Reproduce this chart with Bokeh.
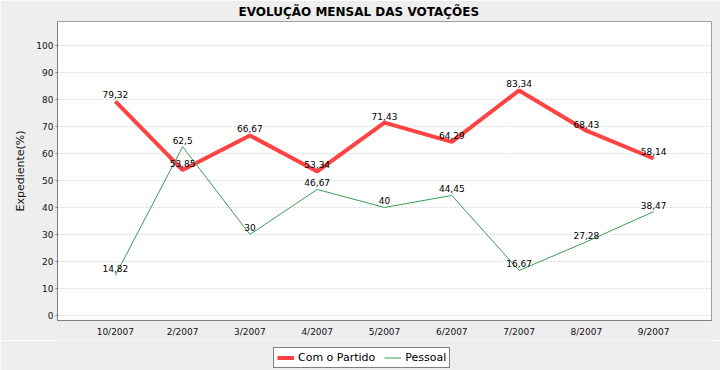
from bokeh.plotting import figure
from bokeh.layouts import column
from bokeh.models import (ColumnDataSource, FixedTicker, Range1d, Legend, LegendItem)
from bokeh.core.properties import value
from bokeh.embed import file_html
from bokeh.resources import INLINE

# ---- data ----
months = ["10/2007", "2/2007", "3/2007", "4/2007", "5/2007", "6/2007", "7/2007", "8/2007", "9/2007"]
com_partido = [79.32, 53.85, 66.67, 53.34, 71.43, 64.29, 83.34, 68.43, 58.14]
pessoal = [14.82, 62.5, 30, 46.67, 40, 44.45, 16.67, 27.28, 38.47]
y_ticks = [0, 10, 20, 30, 40, 50, 60, 70, 80, 90, 100]
title_text = "EVOLUÇÃO MENSAL DAS VOTAÇÕES"
y_label = "Expediente(%)"
series_names = ["Com o Partido", "Pessoal"]


def fmt(v):
    s = ("%.2f" % v).rstrip("0").rstrip(".")
    return s.replace(".", ",")


xs = list(range(len(months)))
src_a = ColumnDataSource(dict(x=xs, y=com_partido, t=[fmt(v) for v in com_partido]))
src_b = ColumnDataSource(dict(x=xs, y=pessoal, t=[fmt(v) for v in pessoal]))

FONT = "DejaVu Sans"
RED = "#FF4242"
GREEN = "#3A9C52"
BG = "#EEEEEE"

p = figure(width=720, height=340, output_backend="svg", toolbar_location=None,
           x_range=Range1d(-0.86, len(months) - 1 + 0.86),
           y_range=Range1d(-1.85, 108.86),
           min_border_left=57, min_border_right=9, min_border_top=20,
           min_border_bottom=20)

p.background_fill_color = "white"
p.border_fill_color = BG
p.outline_line_color = "#A0A0A0"
p.outline_line_width = 1

# title
p.title.text = title_text
p.title.align = "left"
p.title.text_font = FONT
p.title.text_font_size = "12px"
p.title.text_font_style = "bold"
p.title.text_color = "#000000"
p.title.standoff = 5
p.title.offset = 181

# axes
p.xaxis.ticker = FixedTicker(ticks=xs)
p.xaxis.major_label_overrides = {i: m for i, m in enumerate(months)}
p.yaxis.ticker = FixedTicker(ticks=y_ticks)
for ax in (p.xaxis[0], p.yaxis[0]):
    ax.axis_line_color = "#808080"
    ax.major_tick_line_color = "#808080"
    ax.minor_tick_line_color = None
    ax.major_label_text_font = FONT
    ax.major_label_text_font_size = "9px"
    ax.major_label_text_color = "#111111"
    ax.major_tick_in = 0
p.xaxis.major_tick_out = 0
p.xaxis.major_label_standoff = 6
p.yaxis.major_tick_out = 2
p.yaxis.major_label_standoff = 2
p.yaxis.axis_label = y_label
p.yaxis.axis_label_text_font = FONT
p.yaxis.axis_label_text_font_size = "11px"
p.yaxis.axis_label_text_font_style = "normal"
p.yaxis.axis_label_text_color = "#111111"
p.yaxis.axis_label_standoff = 6

# grid
p.xgrid.visible = False
p.ygrid.ticker = FixedTicker(ticks=y_ticks)
p.ygrid.grid_line_color = "#D6D6D6"
p.ygrid.grid_line_dash = "2 2"
p.ygrid.grid_line_width = 1

# lines
p.line("x", "y", source=src_a, line_color=RED, line_width=4)
p.line("x", "y", source=src_b, line_color=GREEN, line_width=1)

for src in (src_a, src_b):
    p.text("x", "y", text="t", source=src, text_align="center", text_baseline="bottom",
           y_offset=-3, text_font=value(FONT), text_font_size="9px", text_color="#000000")

# legend strip (separate figure below the chart; its ranges keep the
# series out of view so only the legend is shown)
lg = figure(width=720, height=30, output_backend="svg", toolbar_location=None,
            x_range=Range1d(-0.86, len(months) - 1 + 0.86), y_range=Range1d(1000, 1001),
            x_axis_type=None, y_axis_type=None, min_border=0)
lg.outline_line_color = None
lg.background_fill_color = BG
lg.border_fill_color = BG
la = lg.line("x", "y", source=src_a, line_color=RED, line_width=4)
lb = lg.line("x", "y", source=src_b, line_color=GREEN, line_width=1)

legend = Legend(items=[LegendItem(label=series_names[0], renderers=[la]),
                       LegendItem(label=series_names[1], renderers=[lb])],
                orientation="horizontal", location=(216, 2))
legend.label_text_font = FONT
legend.label_text_font_size = "11px"
legend.label_text_color = "#000000"
legend.border_line_color = "#000000"
legend.border_line_width = 1
legend.background_fill_color = "white"
legend.background_fill_alpha = 1
legend.glyph_width = 17
legend.glyph_height = 13
legend.label_height = 13
legend.label_standoff = 4
legend.spacing = 9
legend.padding = 3
legend.margin = 0
lg.add_layout(legend)

layout = column(p, lg, spacing=0)
open("out.html", "w").write(file_html(layout, INLINE))
